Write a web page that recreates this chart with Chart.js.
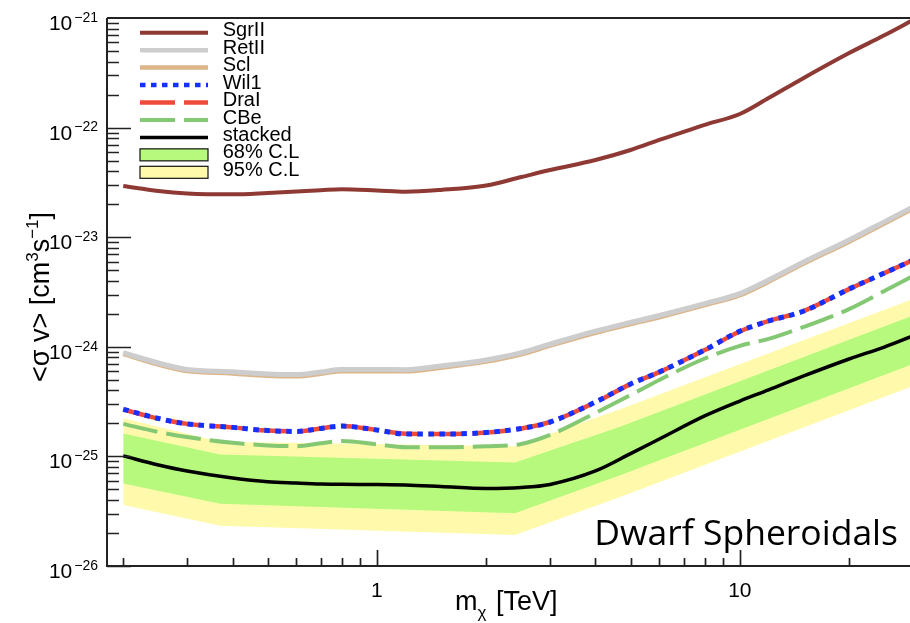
<!DOCTYPE html>
<html>
<head>
<meta charset="utf-8">
<title>Dwarf Spheroidals limits</title>
<script src="https://cdn.jsdelivr.net/npm/chart.js@4.4.0/dist/chart.umd.min.js"></script>
<style>
  html, body { margin: 0; padding: 0; background: #fff; overflow: hidden; }
  canvas { display: block; }
</style>
</head>
<body>
<canvas id="chart" width="916" height="623"></canvas>
<script>
// dark matter mass grid (TeV) shared by the limit curves
const massTeV = [0.2, 0.25, 0.3, 0.4, 0.5, 0.6, 0.7, 0.8, 1, 1.2, 1.5, 2, 2.5, 3, 4, 5, 6, 8, 10, 12, 15, 20, 25, 30];

// <sigma v> upper limits, cm^3 s^-1
const sgrII = [2.93e-23, 2.64e-23, 2.51e-23, 2.46e-23, 2.53e-23, 2.61e-23, 2.68e-23, 2.74e-23, 2.67e-23, 2.60e-23, 2.70e-23, 2.96e-23, 3.54e-23, 4.10e-23, 5.06e-23, 6.25e-23, 7.71e-23, 1.06e-22, 1.33e-22, 1.86e-22, 2.84e-22, 4.79e-22, 6.95e-22, 9.57e-22];
const retII = [8.83e-25, 7.11e-25, 6.21e-25, 5.93e-25, 5.65e-25, 5.58e-25, 5.89e-25, 6.21e-25, 6.21e-25, 6.18e-25, 6.68e-25, 7.59e-25, 8.85e-25, 1.06e-24, 1.39e-24, 1.67e-24, 1.93e-24, 2.48e-24, 3.06e-24, 4.07e-24, 5.94e-24, 9.42e-24, 1.38e-23, 1.89e-23];
const scl = [8.65e-25, 6.92e-25, 6.03e-25, 5.75e-25, 5.48e-25, 5.41e-25, 5.71e-25, 6.03e-25, 6.03e-25, 6.00e-25, 6.48e-25, 7.37e-25, 8.60e-25, 1.03e-24, 1.35e-24, 1.62e-24, 1.87e-24, 2.41e-24, 2.97e-24, 3.95e-24, 5.77e-24, 9.15e-24, 1.34e-23, 1.84e-23];
const wil1 = [2.69e-25, 2.22e-25, 1.98e-25, 1.84e-25, 1.72e-25, 1.69e-25, 1.80e-25, 1.89e-25, 1.74e-25, 1.60e-25, 1.60e-25, 1.65e-25, 1.80e-25, 2.06e-25, 3.13e-25, 4.58e-25, 5.89e-25, 9.35e-25, 1.39e-24, 1.72e-24, 2.12e-24, 3.37e-24, 4.71e-24, 6.19e-24];
const draI = [2.68e-25, 2.21e-25, 1.98e-25, 1.84e-25, 1.72e-25, 1.69e-25, 1.80e-25, 1.89e-25, 1.74e-25, 1.61e-25, 1.60e-25, 1.65e-25, 1.80e-25, 2.06e-25, 3.12e-25, 4.57e-25, 5.88e-25, 9.33e-25, 1.38e-24, 1.72e-24, 2.12e-24, 3.36e-24, 4.70e-24, 6.17e-24];
const cBe = [1.98e-25, 1.67e-25, 1.50e-25, 1.33e-25, 1.26e-25, 1.24e-25, 1.32e-25, 1.38e-25, 1.29e-25, 1.21e-25, 1.21e-25, 1.24e-25, 1.30e-25, 1.57e-25, 2.49e-25, 3.63e-25, 4.98e-25, 7.82e-25, 1.02e-24, 1.18e-24, 1.52e-24, 2.21e-24, 3.23e-24, 4.43e-24];
const stacked = [1.01e-25, 8.36e-26, 7.36e-26, 6.35e-26, 5.87e-26, 5.71e-26, 5.60e-26, 5.56e-26, 5.55e-26, 5.48e-26, 5.31e-26, 5.09e-26, 5.20e-26, 5.55e-26, 7.36e-26, 1.06e-25, 1.44e-25, 2.34e-25, 3.20e-25, 4.04e-25, 5.42e-25, 7.74e-25, 9.95e-25, 1.26e-24];

// expected-limit containment bands
const bandMassTeV = [0.2, 0.37, 2.4, 4.7, 30];
const band68Upper = [1.62e-25, 1.04e-25, 8.79e-26, 1.87e-25, 1.93e-24];
const band68Lower = [5.66e-26, 3.70e-26, 3.03e-26, 6.76e-26, 6.97e-25];
const band95Upper = [2.23e-25, 1.36e-25, 1.24e-25, 2.70e-25, 2.73e-24];
const band95Lower = [3.61e-26, 2.33e-26, 1.92e-26, 4.29e-26, 4.39e-25];

// axis labels
const xTickLabels = [1, 10];
const yTickExponents = [-21, -22, -23, -24, -25, -26];

const HELV = '"Liberation Sans", Arial, Helvetica, sans-serif';

function points(xs, ys) {
  return xs.map((x, i) => ({ x: x, y: ys[i] }));
}

function curve(label, values, color, width, dash) {
  return {
    label: label,
    data: points(massTeV, values),
    borderColor: color,
    borderWidth: width,
    borderDash: dash || [],
    borderCapStyle: 'butt',
    pointRadius: 0,
    fill: false,
    cubicInterpolationMode: 'monotone'
  };
}

function bandEdge(label, values, color, fill) {
  return {
    label: label,
    data: points(bandMassTeV, values),
    borderColor: 'rgba(0,0,0,0)',
    borderWidth: 0,
    backgroundColor: color,
    pointRadius: 0,
    tension: 0,
    fill: fill
  };
}

// first dataset ends up on top, bands are drawn first
const datasets = [
  curve('SgrII', sgrII, '#8e3934', 4),
  curve('RetII', retII, '#cdcdcd', 5),
  curve('Scl', scl, '#dcb588', 5),
  curve('Wil1', wil1, '#1430ff', 5, [5.5, 5.5]),
  curve('DraI', draI, '#ef4b3b', 4.5, [35, 9]),
  curve('CBe', cBe, '#84c874', 4, [35, 9]),
  curve('stacked', stacked, '#000000', 3.5),
  bandEdge('68% C.L', band68Upper, '#b6f97c', '+1'),
  bandEdge('', band68Lower, '#b6f97c', false),
  bandEdge('95% C.L', band95Upper, '#fffaab', '+1'),
  bandEdge('', band95Lower, '#fffaab', false)
];

function drawText(ctx, text, x, y, size, align) {
  ctx.font = size + 'px ' + HELV;
  ctx.textAlign = align || 'left';
  ctx.fillText(text, x, y);
  return ctx.measureText(text).width;
}

// ROOT-style frame: inward ticks, superscript labels, legend
const rootFrame = {
  id: 'rootFrame',
  afterDatasetsDraw(chart) {
    const ctx = chart.ctx;
    const a = chart.chartArea;
    const xs = chart.scales.x;
    const ys = chart.scales.y;

    ctx.save();
    ctx.strokeStyle = '#222';
    ctx.fillStyle = '#000';
    ctx.textBaseline = 'alphabetic';

    // frame
    ctx.lineWidth = 2;
    ctx.beginPath();
    ctx.moveTo(a.left, a.top);
    ctx.lineTo(a.right + 4, a.top);
    ctx.moveTo(a.left, a.top);
    ctx.lineTo(a.left, a.bottom);
    ctx.lineTo(a.right + 4, a.bottom);
    ctx.stroke();

    // y ticks
    ctx.lineWidth = 1.7;
    ctx.beginPath();
    for (let e = -26; e < -21; e++) {
      for (let k = 1; k <= 9; k++) {
        const py = Math.round(ys.getPixelForValue(k * Math.pow(10, e))) + 0.5;
        const len = k === 1 ? 24 : 12;
        ctx.moveTo(a.left, py);
        ctx.lineTo(a.left + len, py);
      }
    }
    // x ticks
    for (let e = -1; e <= 1; e++) {
      for (let k = 1; k <= 9; k++) {
        const v = k * Math.pow(10, e);
        if (v < xs.min || v > xs.max) continue;
        const px = Math.round(xs.getPixelForValue(v)) + 0.5;
        const len = k === 1 ? 16 : 8;
        ctx.moveTo(px, a.bottom);
        ctx.lineTo(px, a.bottom - len);
      }
    }
    ctx.stroke();

    // y tick labels 10^n
    yTickExponents.forEach(e => {
      const py = ys.getPixelForValue(Math.pow(10, e));
      const ew = drawText(ctx, '\u2212' + Math.abs(e), 98, py + 3.7, 14, 'right');
      drawText(ctx, '10', 98 - ew - 2, py + 12, 21, 'right');
    });

    // x tick labels
    xTickLabels.forEach(v => {
      drawText(ctx, String(v), xs.getPixelForValue(v), 597, 21, 'center');
    });

    // x title: m_chi [TeV]
    let tx = 455;
    tx += drawText(ctx, 'm', tx, 610, 27);
    tx += drawText(ctx, '\u03c7', tx, 618, 17) + 2;
    drawText(ctx, ' [TeV]', tx, 610, 27);

    // y title: <sigma v> [cm^3 s^-1]
    ctx.save();
    ctx.translate(49, 297);
    ctx.rotate(-Math.PI / 2);
    const parts = [
      ['<\u03c3 v> [cm', 27, 0],
      ['3', 17, -11],
      ['s', 27, 0],
      ['\u22121', 17, -11],
      [']', 27, 0]
    ];
    let total = 0;
    parts.forEach(p => { ctx.font = p[1] + 'px ' + HELV; total += ctx.measureText(p[0]).width; });
    let px = -total / 2;
    parts.forEach(p => { px += drawText(ctx, p[0], px, p[2], p[1]); });
    ctx.restore();

    // legend
    const rowStep = 17.45;
    let row = 0;
    chart.data.datasets.forEach(ds => {
      if (!ds.label) return;
      const cy = 32.7 + row * rowStep;
      if (ds.fill) {
        ctx.fillStyle = ds.backgroundColor;
        ctx.fillRect(140, cy - 6, 68, 12);
        ctx.lineWidth = 1.2;
        ctx.strokeStyle = '#111';
        ctx.strokeRect(140, cy - 6, 68, 12);
      } else {
        ctx.save();
        ctx.strokeStyle = ds.borderColor;
        ctx.lineWidth = Math.min(ds.borderWidth, 4.5);
        ctx.lineCap = 'butt';
        ctx.setLineDash(ds.borderDash);
        ctx.beginPath();
        ctx.moveTo(140, cy);
        ctx.lineTo(208, cy);
        ctx.stroke();
        ctx.restore();
      }
      ctx.fillStyle = '#000';
      drawText(ctx, ds.label, 222.7, cy + 3.6, 20);
      row++;
    });

    // panel caption
    ctx.font = '35.5px "Open Sans", "Noto Sans", sans-serif';
    ctx.textAlign = 'right';
    ctx.fillStyle = '#000';
    ctx.fillText('Dwarf Spheroidals', 898, 545);

    ctx.restore();
  }
};

new Chart(document.getElementById('chart'), {
  type: 'line',
  data: { datasets: datasets },
  options: {
    responsive: false,
    animation: false,
    layout: { padding: { left: 107, top: 18, right: 3, bottom: 57 } },
    scales: {
      x: { type: 'logarithmic', min: 0.1804, max: 30, display: false },
      y: { type: 'logarithmic', min: 1e-26, max: 1e-21, display: false }
    },
    plugins: {
      legend: { display: false },
      tooltip: { enabled: false }
    }
  },
  plugins: [rootFrame]
});
</script>
</body>
</html>
